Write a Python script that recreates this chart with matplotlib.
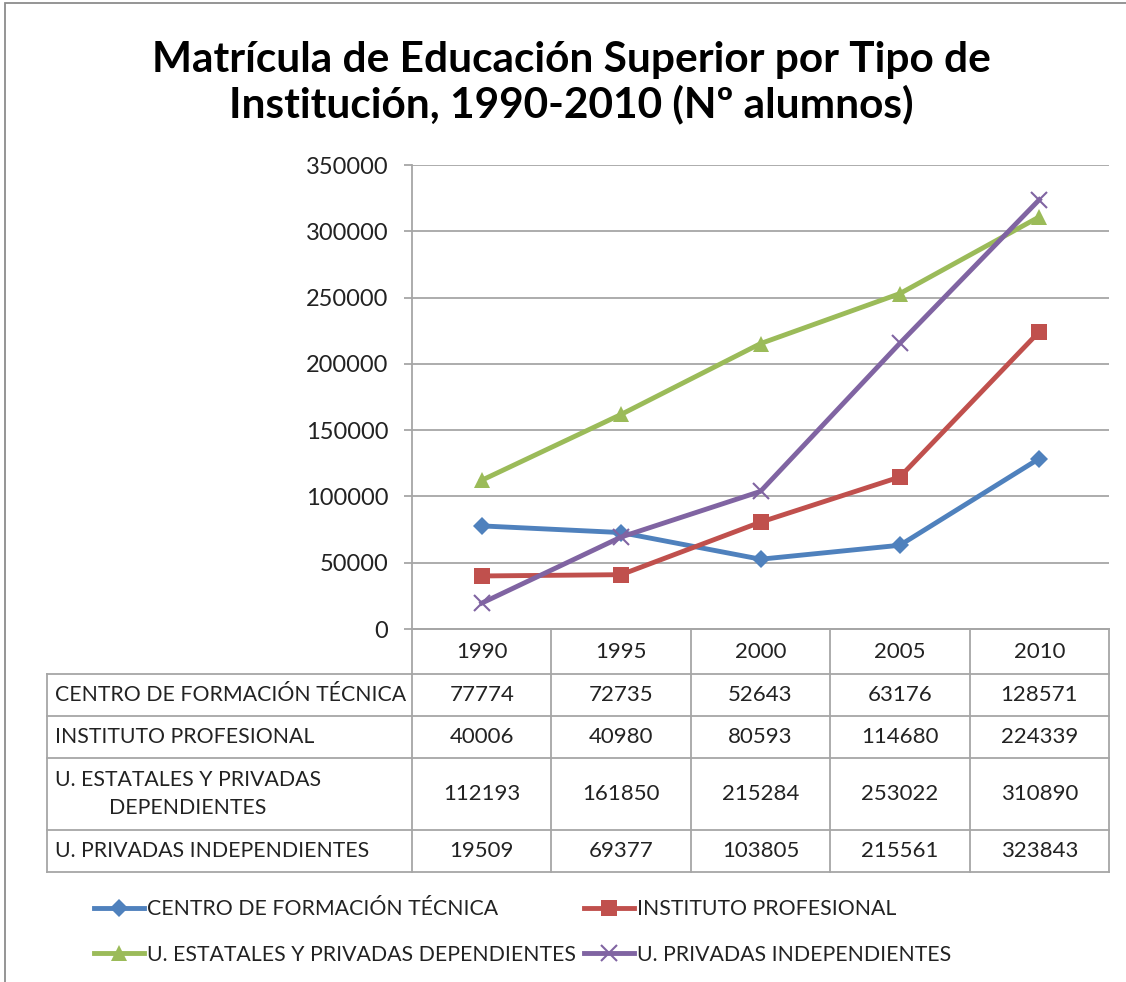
import matplotlib
matplotlib.use("Agg")
import matplotlib.pyplot as plt
from matplotlib.patches import Rectangle

plt.rcParams["font.family"] = ["Lato", "DejaVu Sans"]

# data
years = ["1990", "1995", "2000", "2005", "2010"]
series_names = [
    "CENTRO DE FORMACIÓN TÉCNICA",
    "INSTITUTO PROFESIONAL",
    "U. ESTATALES Y PRIVADAS DEPENDIENTES",
    "U. PRIVADAS INDEPENDIENTES",
]
table_labels = [
    "CENTRO DE FORMACIÓN TÉCNICA",
    "INSTITUTO PROFESIONAL",
    "U. ESTATALES Y PRIVADAS\nDEPENDIENTES",
    "U. PRIVADAS INDEPENDIENTES",
]
cft = [77774, 72735, 52643, 63176, 128571]
ip = [40006, 40980, 80593, 114680, 224339]
u_dep = [112193, 161850, 215284, 253022, 310890]
u_priv = [19509, 69377, 103805, 215561, 323843]
yticks = [0, 50000, 100000, 150000, 200000, 250000, 300000, 350000]

colors = ["#4F81BD", "#C0504D", "#9BBB59", "#8064A2"]
markers = ["D", "s", "^", "x"]
msizes = [9, 11, 12, 12]
all_series = [cft, ip, u_dep, u_priv]

W, H = 1126, 982
GRID = "#A6A6A6"
TXT = "#222222"
FS_NUM = 16      # numbers in table
FS_TICK = 17     # y tick labels
FS_LAB = 15.3    # upper-case labels (table rows, legend)


def fx(px):
    return px / W


def fy(py):
    return 1 - py / H


fig = plt.figure(figsize=(W / 100, H / 100), dpi=100)

# outer chart frame
fig.patches.append(Rectangle((fx(5), fy(1000)), fx(1200), fy(3) - fy(1000),
                             transform=fig.transFigure, fill=False,
                             edgecolor="#8C8C8C", lw=1.3))

# plot area
x_left, x_right, y_top, y_zero = 412, 1109, 165, 629
ax = fig.add_axes([fx(x_left), fy(y_zero), fx(x_right) - fx(x_left), fy(y_top) - fy(y_zero)])
xs = list(range(len(years)))
lines = []
for vals, c, m, ms in zip(all_series, colors, markers, msizes):
    ln, = ax.plot(xs, vals, color=c, lw=3.5, marker=m, ms=ms,
                  mew=1.5 if m == "x" else 0, mfc=c, mec=c, zorder=3)
    lines.append(ln)
ax.set_xlim(-0.5, len(years) - 0.5)
ax.set_ylim(0, 350000)
ax.set_yticks(yticks)
ax.set_yticklabels([str(v) for v in yticks], fontsize=FS_TICK, color=TXT)
ax.set_xticks([])
ax.grid(axis="y", color=GRID, lw=1.3)
ax.set_axisbelow(True)
for s in ("top", "right"):
    ax.spines[s].set_visible(False)
for s in ("left", "bottom"):
    ax.spines[s].set_color(GRID)
    ax.spines[s].set_linewidth(1.3)
ax.tick_params(axis="y", length=6, width=1.3, color=GRID, pad=11)

# data table below the plot
t_left = 47
rows_y = [629, 674, 716, 758, 830, 872]
colw = (x_right - x_left) / len(years)
tax = fig.add_axes([fx(t_left), fy(rows_y[-1]), fx(x_right) - fx(t_left), fy(rows_y[0]) - fy(rows_y[-1])])
lx = -0.5 - (x_left - t_left) / colw
tax.set_xlim(lx, len(years) - 0.5)
tax.set_ylim(rows_y[-1], rows_y[0])
tax.axis("off")

kw = dict(color=GRID, lw=1.3, solid_capstyle="projecting", clip_on=False)
tax.plot([-0.5, len(years) - 0.5], [rows_y[0], rows_y[0]], **kw)
for y in rows_y[1:]:
    tax.plot([lx, len(years) - 0.5], [y, y], **kw)
for k in range(len(years) + 1):
    tax.plot([k - 0.5, k - 0.5], [rows_y[0], rows_y[-1]], **kw)
tax.plot([lx, lx], [rows_y[1], rows_y[-1]], **kw)

for i, yr in enumerate(years):
    tax.text(i, (rows_y[0] + rows_y[1]) / 2, yr, ha="center", va="center",
             fontsize=FS_NUM, color=TXT)
for r, (lab, vals) in enumerate(zip(table_labels, all_series)):
    yc = (rows_y[r + 1] + rows_y[r + 2]) / 2
    tax.text(lx + 8 / colw, yc, lab, ha="left", va="center", fontsize=FS_LAB,
             color=TXT, multialignment="center", linespacing=1.45)
    for i, v in enumerate(vals):
        tax.text(i, yc, str(v), ha="center", va="center", fontsize=FS_NUM, color=TXT)

# legend (column-major order to get two rows)
order = [0, 2, 1, 3]
fig.legend([lines[i] for i in order], [series_names[i] for i in order],
           ncol=2, loc="center left", bbox_to_anchor=(fx(94), fy(932)),
           frameon=False, fontsize=FS_LAB, handlelength=2.35, handletextpad=0.15,
           columnspacing=0.35, labelspacing=1.18, borderpad=0, borderaxespad=0,
           labelcolor=TXT)

fig.text(fx(571), fy(83), "Matrícula de Educación Superior por Tipo de\nInstitución, 1990-2010 (Nº alumnos)",
         ha="center", va="center", fontsize=30.5, fontweight="bold", linespacing=1.16)

fig.savefig("out.png", dpi=100)
